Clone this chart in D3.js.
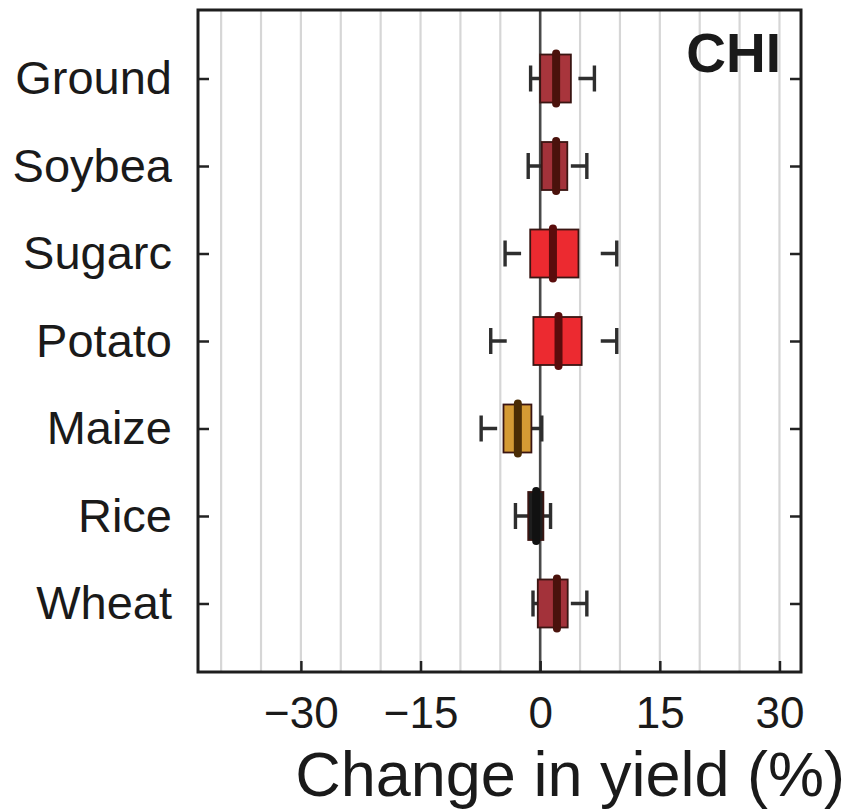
<!DOCTYPE html>
<html>
<head>
<meta charset="utf-8">
<script src="https://cdn.jsdelivr.net/npm/d3@7/dist/d3.min.js"></script>
<style>
  html, body { margin: 0; padding: 0; background: #fff; }
  svg { display: block; }
  text { font-family: "Liberation Sans", Arial, Helvetica, sans-serif; fill: #1a1a1a; }
</style>
</head>
<body>
<svg id="chart" width="848" height="809"></svg>
<script>
// Crop-yield change distributions for China (CHI), one box per crop.
const crops        = ["Ground", "Soybea", "Sugarc", "Potato", "Maize", "Rice", "Wheat"];
const whiskerLow   = [-1.2, -1.5, -4.4, -6.2, -7.4, -3.1, -0.9];
const quartileLow  = [ 0.0,  0.2, -1.25, -0.85, -4.6, -1.5, -0.3];
const medians      = [ 2.0,  2.0,  1.6,  2.3, -2.8, -0.5,  2.1];
const quartileHigh = [ 3.85, 3.4,  4.8,  5.2, -1.1,  0.4,  3.45];
const whiskerHigh  = [ 6.8,  5.85, 9.6,  9.6,  0.2,  1.3,  5.85];
const xTickValues  = [-30, -15, 0, 15, 30];
const gridValues   = [-40, -35, -30, -25, -20, -15, -10, -5, 5, 10, 15, 20, 25, 30];
const regionLabel  = "CHI";
const xTitle       = "Change in yield (%)";

// Fill and median colours per crop group
const boxFill   = ["#a8353c", "#a3323a", "#ec2a30", "#ec2a30", "#d49a34", "#1e1e1e", "#a3323a"];
const medColour = ["#4a120c", "#4a120c", "#5a0c0c", "#5a0c0c", "#4a2c04", "#111111", "#4a120c"];

const svg = d3.select("#chart");
const frame = { left: 198, right: 801, top: 10, bottom: 672 };

const x = d3.scaleLinear().domain([-42.9, 32.7]).range([frame.left, frame.right]);
const y = d3.scalePoint().domain(crops).range([frame.top, frame.bottom]).padding(0.783);

const rows = crops.map((c, i) => ({
  crop: c, lo: whiskerLow[i], q1: quartileLow[i], med: medians[i],
  q3: quartileHigh[i], hi: whiskerHigh[i], fill: boxFill[i], medC: medColour[i]
}));

// Light vertical grid
svg.append("g").selectAll("line").data(gridValues).join("line")
  .attr("x1", d => x(d)).attr("x2", d => x(d))
  .attr("y1", frame.top).attr("y2", frame.bottom)
  .attr("stroke", "#d6d6d6").attr("stroke-width", 2.2);

// Zero reference line
svg.append("line")
  .attr("x1", x(0)).attr("x2", x(0))
  .attr("y1", frame.top).attr("y2", frame.bottom)
  .attr("stroke", "#4a4a4a").attr("stroke-width", 2.6);

// Axes with inward ticks
const tickLen = 11;
svg.append("g")
  .attr("transform", `translate(0,${frame.bottom})`)
  .call(d3.axisBottom(x).tickValues(xTickValues).tickSizeInner(-tickLen).tickSizeOuter(0)
    .tickPadding(25).tickFormat(d => d < 0 ? "\u2212" + Math.abs(d) : String(d)))
  .call(g => g.select(".domain").remove())
  .call(g => g.selectAll(".tick line").attr("stroke", "#222").attr("stroke-width", 2.5))
  .call(g => g.selectAll(".tick text").attr("font-size", 44).attr("fill", "#1a1a1a")
    .attr("font-family", "Liberation Sans, Arial, sans-serif"));

svg.append("g")
  .attr("transform", `translate(${frame.left},0)`)
  .call(d3.axisLeft(y).tickSizeInner(-tickLen).tickSizeOuter(0).tickPadding(26))
  .call(g => g.select(".domain").remove())
  .call(g => g.selectAll(".tick line").attr("stroke", "#222").attr("stroke-width", 2.5))
  .call(g => g.selectAll(".tick text").attr("font-size", 47).attr("fill", "#1a1a1a")
    .attr("font-family", "Liberation Sans, Arial, sans-serif"));

svg.append("g")
  .attr("transform", `translate(${frame.right},0)`)
  .call(d3.axisRight(y).tickSizeInner(-tickLen).tickSizeOuter(0).tickFormat(""))
  .call(g => g.select(".domain").remove())
  .call(g => g.selectAll(".tick line").attr("stroke", "#222").attr("stroke-width", 2.5));

// Box plots
const halfH = 24, capHalf = 13, stub = 16;
const box = svg.append("g").selectAll("g").data(rows).join("g")
  .attr("transform", d => `translate(0,${y(d.crop)})`);

// whisker caps with short stubs pointing toward the box
box.append("path")
  .attr("d", d => {
    const a = x(d.lo), b = x(d.hi);
    return `M${a},${-capHalf}V${capHalf}M${a},0H${a + stub}` +
           `M${b},${-capHalf}V${capHalf}M${b},0H${b - stub}`;
  })
  .attr("fill", "none").attr("stroke", "#2e2e2e").attr("stroke-width", 3.4);

box.append("rect")
  .attr("x", d => x(d.q1)).attr("width", d => x(d.q3) - x(d.q1))
  .attr("y", -halfH).attr("height", 2 * halfH)
  .attr("fill", d => d.fill).attr("stroke", "#3a1512").attr("stroke-width", 1.8);

box.append("line")
  .attr("x1", d => x(d.med)).attr("x2", d => x(d.med))
  .attr("y1", -halfH - 1).attr("y2", halfH + 1)
  .attr("stroke", d => d.medC).attr("stroke-width", 8).attr("stroke-linecap", "round");

// Frame
svg.append("rect")
  .attr("x", frame.left).attr("y", frame.top)
  .attr("width", frame.right - frame.left).attr("height", frame.bottom - frame.top)
  .attr("fill", "none").attr("stroke", "#1e1e1e").attr("stroke-width", 3);

// Region label
svg.append("text")
  .attr("x", 781).attr("y", 72).attr("text-anchor", "end")
  .attr("font-size", 55).attr("font-weight", "bold").attr("fill", "#1a1a1a")
  .text(regionLabel);

// X-axis title
svg.append("text")
  .attr("x", 845).attr("y", 796).attr("text-anchor", "end")
  .attr("font-size", 63).attr("fill", "#000")
  .text(xTitle);
</script>
</body>
</html>
